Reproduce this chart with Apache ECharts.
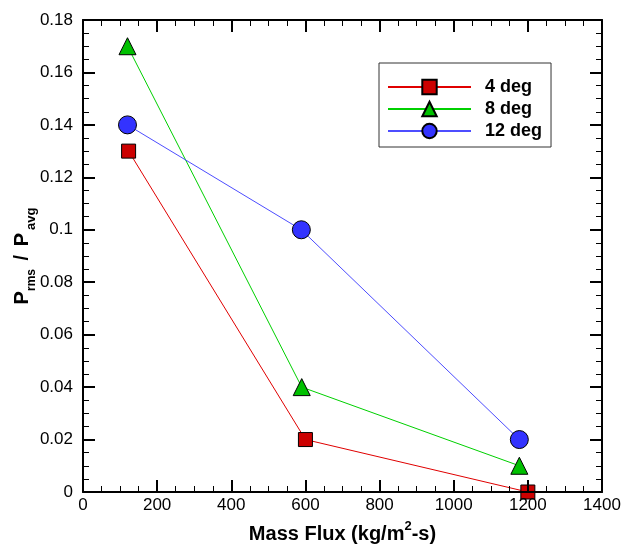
<!DOCTYPE html>
<html>
<head>
<meta charset="utf-8">
<script src="https://cdn.jsdelivr.net/npm/echarts@6/dist/echarts.min.js"></script>
<style>
html,body{margin:0;padding:0;background:#fff;}
#c{width:625px;height:544px;}
</style>
</head>
<body>
<div id="c"></div>
<script>
const xTicks = { min: 0, max: 1400, interval: 200 };
const yTicks = { min: 0, max: 0.18, interval: 0.02 };

const seriesNames = ['4 deg', '8 deg', '12 deg'];
const massFlux4 = [123, 600, 1200];
const ratio4 = [0.13, 0.02, 0.0];
const massFlux8 = [120, 590, 1177];
const ratio8 = [0.17, 0.04, 0.01];
const massFlux12 = [120, 589, 1177];
const ratio12 = [0.14, 0.10, 0.02];

const FONT = '"Liberation Sans", Arial, Helvetica, sans-serif';

function pairs(xs, ys) { return xs.map((x, i) => [x, ys[i]]); }

function axisCommon(showLabel, pos) {
  return {
    position: pos,
    axisLine: { show: true, onZero: false, lineStyle: { color: '#000', width: 2 } },
    axisTick: { show: true, inside: true, length: 12, lineStyle: { color: '#000', width: 2 } },
    minorTick: { show: true, splitNumber: 4, length: 6, lineStyle: { color: '#000', width: 1 } },
    splitLine: { show: false },
    axisLabel: { show: showLabel, color: '#000', fontSize: 17, fontFamily: FONT, margin: 5, formatter: v => String(v) },
    nameMoveOverlap: false,
    z: 5
  };
}

const chart = echarts.init(document.getElementById('c'), null, { renderer: 'canvas' });
const option = {
  animation: false,
  backgroundColor: '#fff',
  grid: { left: 83, right: 23, top: 20, bottom: 52, containLabel: false, outerBoundsMode: 'none' },
  xAxis: [
    Object.assign(axisCommon(true, 'bottom'), {
      type: 'value', min: xTicks.min, max: xTicks.max, interval: xTicks.interval,
      name: '{t|Mass Flux (kg/m}{s|2}{t|-s)}',
      nameLocation: 'middle', nameGap: 28,
      nameTextStyle: {
        rich: {
          t: { fontSize: 20, fontWeight: 'bold', fontFamily: FONT, color: '#000', lineHeight: 24, verticalAlign: 'bottom' },
          s: { fontSize: 13, fontWeight: 'bold', fontFamily: FONT, color: '#000', lineHeight: 12, verticalAlign: 'top' }
        }
      }
    }),
    Object.assign(axisCommon(false, 'top'), {
      type: 'value', min: xTicks.min, max: xTicks.max, interval: xTicks.interval
    })
  ],
  yAxis: [
    Object.assign(axisCommon(true, 'left'), {
      type: 'value', min: yTicks.min, max: yTicks.max, interval: yTicks.interval,
      axisLabel: { show: true, color: '#000', fontSize: 17, fontFamily: FONT, margin: 10, formatter: v => String(+v.toFixed(4)) },
      name: '{p|P}{b|rms}{s| / }{p|P}{c|avg}',
      nameLocation: 'middle', nameGap: 45,
      nameTextStyle: {
        rich: {
          p: { fontSize: 20, fontWeight: 'bold', fontFamily: FONT, color: '#000', lineHeight: 26, verticalAlign: 'top' },
          s: { fontSize: 20, fontWeight: 'bold', fontFamily: FONT, color: '#000', lineHeight: 26, verticalAlign: 'top', padding: [0, 3, 0, 3] },
          b: { fontSize: 12, fontWeight: 'bold', fontFamily: FONT, color: '#000', lineHeight: 4, verticalAlign: 'bottom' },
          c: { fontSize: 13, fontWeight: 'bold', fontFamily: FONT, color: '#000', lineHeight: 4, verticalAlign: 'bottom', padding: [0, 0, 0, 3] }
        }
      }
    }),
    Object.assign(axisCommon(false, 'right'), {
      type: 'value', min: yTicks.min, max: yTicks.max, interval: yTicks.interval
    })
  ],
  legend: {
    show: true,
    orient: 'vertical',
    left: 379, top: 63,
    padding: [15, 9, 7, 8],
    itemWidth: 83, itemHeight: 18, itemGap: 4,
    borderColor: '#333', borderWidth: 1, backgroundColor: '#fff',
    textStyle: { fontSize: 18, fontWeight: 'bold', fontFamily: FONT, color: '#000', padding: [0, 0, 0, 9] },
    data: seriesNames
  },
  series: [
    {
      name: seriesNames[0], type: 'line', data: pairs(massFlux4, ratio4),
      symbol: 'rect', symbolSize: 14, clip: false,
      lineStyle: { color: '#e00000', width: 1 },
      itemStyle: { color: '#cc0000', borderColor: '#000', borderWidth: 1 }
    },
    {
      name: seriesNames[1], type: 'line', data: pairs(massFlux8, ratio8),
      symbol: 'triangle', symbolSize: 17, clip: false,
      lineStyle: { color: '#00d000', width: 1 },
      itemStyle: { color: '#00c000', borderColor: '#000', borderWidth: 1 }
    },
    {
      name: seriesNames[2], type: 'line', data: pairs(massFlux12, ratio12),
      symbol: 'circle', symbolSize: 18, clip: false,
      lineStyle: { color: '#4d4dff', width: 1 },
      itemStyle: { color: '#3333ff', borderColor: '#000', borderWidth: 1 }
    }
  ]
};
chart.setOption(option);
</script>
</body>
</html>
